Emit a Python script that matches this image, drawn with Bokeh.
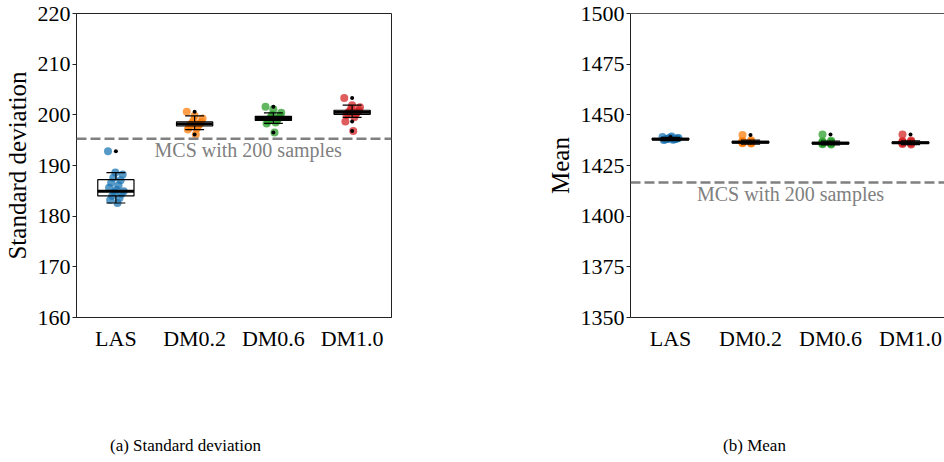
from bokeh.plotting import figure
from bokeh.models import Range1d, FixedTicker, Span, LinearAxis
from bokeh.layouts import row, column
from bokeh.embed import file_html
from bokeh.resources import INLINE
from bokeh.core.properties import value

categories = ["LAS", "DM0.2", "DM0.6", "DM1.0"]
colors = ["#1f77b4", "#ff7f0e", "#2ca02c", "#d62728"]

# ---- Standard deviation panel: individual runs ----
sd_las = [192.8, 188.6, 188.2, 187.6, 187.1, 186.6, 186.1, 185.6, 185.2, 184.9, 184.7, 184.4, 184.0, 183.6, 183.2, 182.6]
sd_dm02 = [200.6, 199.8, 199.3, 198.9, 198.6, 198.4, 198.3, 198.2, 198.1, 198.0, 197.8, 197.6, 197.3, 197.1, 196.1]
sd_dm06 = [201.6, 201.1, 200.4, 200.0, 199.8, 199.6, 199.4, 199.3, 199.2, 199.0, 198.9, 198.7, 198.5, 198.3, 196.5]
sd_dm10 = [203.3, 201.9, 201.5, 201.2, 200.9, 200.7, 200.6, 200.5, 200.4, 200.3, 200.1, 199.9, 199.5, 198.7, 196.8]
# box statistics
sd_q1 = [184.0, 197.8, 198.9, 200.1]
sd_med = [184.9, 198.2, 199.3, 200.5]
sd_q3 = [187.2, 198.6, 199.7, 200.9]
sd_lo = [182.6, 197.1, 198.3, 199.5]
sd_hi = [188.6, 199.8, 200.4, 201.9]
sd_fliers = [[192.8], [200.6, 196.1], [201.6, 196.5], [203.3, 198.7, 196.8]]
sd_mcs = 195.3
sd_ticks = [160, 170, 180, 190, 200, 210, 220]

# ---- Mean panel ----
mean_las = [1439.1, 1438.8, 1438.6, 1438.5, 1438.4, 1438.3, 1438.2, 1438.1, 1438.0, 1437.9, 1437.9, 1437.8, 1437.7, 1437.6, 1439.3]
mean_dm02 = [1440.1, 1437.4, 1437.1, 1436.9, 1436.8, 1436.7, 1436.6, 1436.5, 1436.4, 1436.3, 1436.2, 1436.1, 1436.0, 1435.9]
mean_dm06 = [1440.3, 1437.2, 1436.8, 1436.6, 1436.5, 1436.3, 1436.2, 1436.1, 1436.0, 1435.9, 1435.8, 1435.7, 1435.5, 1435.4]
mean_dm10 = [1440.3, 1437.3, 1437.0, 1436.9, 1436.7, 1436.5, 1436.4, 1436.3, 1436.2, 1436.1, 1436.0, 1435.8, 1435.6, 1435.4]
mean_q1 = [1437.7, 1436.1, 1435.7, 1435.9]
mean_med = [1438.0, 1436.5, 1436.0, 1436.2]
mean_q3 = [1438.4, 1436.9, 1436.4, 1436.6]
mean_lo = [1437.3, 1435.5, 1435.2, 1435.3]
mean_hi = [1438.9, 1437.5, 1437.0, 1437.2]
mean_fliers = [[1439.1], [1440.1], [1440.3], [1440.3]]
mean_mcs = 1416.6
mean_ticks = [1350, 1375, 1400, 1425, 1450, 1475, 1500]

captions = ["(a) Standard deviation", "(b) Mean"]

SERIF = "Liberation Serif"
TOP_H = 420


def jitter(n):
    # deterministic spread of strip points around the category centre
    return [(((i * 7) % n) / max(n - 1, 1) - 0.5) * 0.2 for i in range(n)]


def panel(groups, q1, med, q3, lo, hi, fliers, mcs, ticks, ylabel, yr,
          xr, width, border_left, border_right, mcs_xy, full_box):
    p = figure(width=width, height=TOP_H, output_backend="svg", toolbar_location=None,
               x_range=Range1d(*xr), y_range=Range1d(*yr),
               min_border_left=border_left, min_border_right=border_right,
               min_border_top=13, min_border_bottom=TOP_H - 317)
    p.xgrid.visible = False
    p.ygrid.visible = False
    p.background_fill_color = "white"
    p.border_fill_color = "white"

    # x axis
    xa = p.xaxis[0]
    xa.ticker = FixedTicker(ticks=list(range(len(categories))))
    xa.major_label_overrides = {i: c for i, c in enumerate(categories)}
    xa.major_tick_line_color = None
    xa.minor_tick_line_color = None
    xa.axis_line_color = "#222222"
    xa.major_label_text_font = SERIF
    xa.major_label_text_font_size = "22px"
    xa.major_label_text_color = "black"
    xa.major_label_standoff = 2

    # y axis
    ya = p.yaxis[0]
    ya.ticker = FixedTicker(ticks=ticks)
    ya.minor_tick_line_color = None
    ya.major_tick_out = 4
    ya.major_tick_in = 0
    ya.axis_line_color = "#222222"
    ya.major_tick_line_color = "#222222"
    ya.major_label_text_font = SERIF
    ya.major_label_text_font_size = "22px"
    ya.major_label_text_color = "black"
    ya.major_label_standoff = 2
    ya.axis_label = ylabel
    ya.axis_label_text_font = SERIF
    ya.axis_label_text_font_size = "25px"
    ya.axis_label_text_font_style = "normal"
    ya.axis_label_text_color = "black"
    ya.axis_label_standoff = 4

    if full_box:
        p.outline_line_color = "#222222"
        p.outline_line_alpha = 1.0
        p.outline_line_width = 1
    else:
        p.outline_line_color = None
        top = LinearAxis(ticker=FixedTicker(ticks=[]), major_label_text_font_size="0px",
                         major_tick_out=0, major_tick_in=0, minor_tick_out=0, minor_tick_in=0,
                         axis_line_color="#555555", axis_line_width=1, major_label_standoff=0)
        p.add_layout(top, "above")

    # strip points
    for i, vals in enumerate(groups):
        offs = jitter(len(vals))
        p.scatter([i + o for o in offs], vals, size=8, fill_color=colors[i],
                  fill_alpha=0.75, line_color=None)

    idx = list(range(len(categories)))
    hw = 0.23
    cw = 0.12
    p.quad(left=[i - hw for i in idx], right=[i + hw for i in idx], bottom=q1, top=q3,
           fill_color=None, line_color="black", line_width=1.2)
    p.segment(x0=idx, y0=q3, x1=idx, y1=hi, line_color="black", line_width=1.2)
    p.segment(x0=idx, y0=q1, x1=idx, y1=lo, line_color="black", line_width=1.2)
    p.segment(x0=[i - cw for i in idx], y0=hi, x1=[i + cw for i in idx], y1=hi,
              line_color="black", line_width=1.2)
    p.segment(x0=[i - cw for i in idx], y0=lo, x1=[i + cw for i in idx], y1=lo,
              line_color="black", line_width=1.2)
    p.segment(x0=[i - hw for i in idx], y0=med, x1=[i + hw for i in idx], y1=med,
              line_color="black", line_width=3)
    fx, fy = [], []
    for i, fl in enumerate(fliers):
        for v in fl:
            fx.append(i)
            fy.append(v)
    p.scatter(fx, fy, size=4, fill_color="black", line_color=None)

    p.add_layout(Span(location=mcs, dimension="width", line_color="#808080",
                      line_width=2.5, line_dash="10 4"))
    p.text(x=[mcs_xy[0]], y=[mcs_xy[1]], text=["MCS with 200 samples"],
           text_font=value(SERIF), text_font_size="20px", text_color="#808080",
           text_align="center", text_baseline="middle")
    return p


def caption_fig(text, cx):
    h = 462 - TOP_H
    c = figure(width=472, height=h, output_backend="svg", toolbar_location=None,
               x_range=Range1d(0, 472), y_range=Range1d(0, h),
               min_border=0, min_border_left=0, min_border_right=0,
               min_border_top=0, min_border_bottom=0)
    c.axis.visible = False
    c.grid.visible = False
    c.outline_line_color = None
    c.background_fill_color = "white"
    c.border_fill_color = "white"
    c.text(x=[cx], y=[h - (445 - TOP_H)], text=[text], text_font=value(SERIF),
           text_font_size="17px", text_color="black", text_align="center",
           text_baseline="middle")
    return c


p1 = panel([sd_las, sd_dm02, sd_dm06, sd_dm10], sd_q1, sd_med, sd_q3, sd_lo, sd_hi,
           sd_fliers, sd_mcs, sd_ticks, "Standard deviation", (160, 220),
           (-0.5, 3.5), 472, 70, 81, (1.68, 193.0), True)
p2 = panel([mean_las, mean_dm02, mean_dm06, mean_dm10], mean_q1, mean_med, mean_q3,
           mean_lo, mean_hi, mean_fliers, mean_mcs, mean_ticks, "Mean", (1350, 1500),
           (-0.5, -0.5 + 314 / 80), 472, 158, 0, (1.5, 1411.0), False)
c1 = caption_fig(captions[0], 185)
c2 = caption_fig(captions[1], 754 - 472)

layout = column(row(p1, p2), row(c1, c2))
open("out.html", "w").write(file_html(layout, INLINE))
